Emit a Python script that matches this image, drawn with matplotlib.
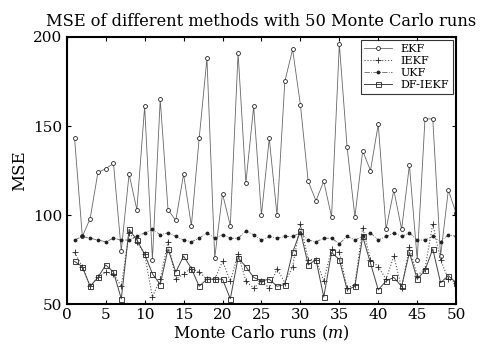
import numpy as np
import matplotlib
matplotlib.use('Agg')
import matplotlib.pyplot as plt

plt.rcParams['font.family'] = ['DejaVu Serif']
plt.rcParams['mathtext.fontset'] = 'dejavuserif'

runs = np.arange(1, 51)
ekf = [143, 88, 98, 124, 126, 129, 80, 123, 103, 161,
       75, 165, 103, 97, 123, 94, 143, 188, 76, 112,
       94, 191, 118, 161, 100, 143, 100, 175, 193, 162,
       119, 108, 119, 99, 196, 138, 99, 136, 125, 151,
       92, 114, 92, 128, 75, 154, 154, 77, 114, 101]
iekf = [79, 71, 60, 65, 68, 67, 60, 90, 85, 78,
        54, 64, 85, 64, 67, 70, 68, 64, 64, 74,
        63, 78, 63, 59, 63, 59, 70, 62, 71, 95,
        75, 75, 63, 81, 79, 59, 61, 93, 75, 71,
        64, 77, 59, 82, 66, 70, 95, 75, 64, 62]
ukf = [86, 88, 87, 86, 85, 87, 86, 86, 88, 90,
       92, 89, 90, 88, 86, 85, 87, 90, 87, 89,
       87, 87, 91, 89, 86, 88, 87, 88, 88, 90,
       86, 85, 87, 87, 84, 88, 86, 88, 90, 86,
       88, 90, 88, 90, 86, 86, 88, 85, 89, 88]
dfiekf = [74, 71, 60, 65, 72, 68, 53, 92, 86, 78,
          67, 61, 81, 68, 77, 70, 60, 64, 64, 64,
          53, 76, 71, 65, 63, 64, 60, 61, 79, 91,
          72, 75, 54, 79, 75, 58, 60, 88, 73, 58,
          63, 65, 60, 79, 64, 69, 81, 62, 66, 62]

fig = plt.figure(figsize=(4.91, 3.52), dpi=100)
ax = fig.add_axes([0.136, 0.136, 0.793, 0.759])

ax.plot(runs, ekf, '-', color='#666666', lw=0.6, marker='o', ms=2.8,
        mfc='white', mec='#222222', mew=0.6, label='EKF')
ax.plot(runs, iekf, ':', color='#555555', lw=0.8, marker='+', ms=4.5,
        mec='#222222', mew=0.6, label='IEKF')
ax.plot(runs, ukf, '-.', color='#666666', lw=0.6, marker='.', ms=3.5,
        mfc='#222222', mec='#222222', label='UKF')
ax.plot(runs, dfiekf, '-', color='#444444', lw=0.7, marker='s', ms=3.6,
        mfc='none', mec='#222222', mew=0.6, label='DF-IEKF')

ax.set_xlim(0, 50)
ax.set_ylim(50, 200)
ax.set_xticks(np.arange(0, 51, 5))
ax.set_yticks([50, 100, 150, 200])
ax.tick_params(direction='in', top=True, right=True, labelsize=11, length=3, pad=3)
for s in ax.spines.values():
    s.set_linewidth(1.5)

ax.set_title('MSE of different methods with 50 Monte Carlo runs', fontsize=11.7, pad=8)
ax.set_xlabel('Monte Carlo runs ($m$)', fontsize=11.5, labelpad=1)
ax.set_ylabel('MSE', fontsize=12, labelpad=4)

leg = ax.legend(loc='upper right', fontsize=8, fancybox=False, edgecolor='black',
                handlelength=2.5, borderpad=0.3, labelspacing=0.2, borderaxespad=0.3)
leg.get_frame().set_linewidth(0.8)

plt.savefig('out.png', dpi=100)
